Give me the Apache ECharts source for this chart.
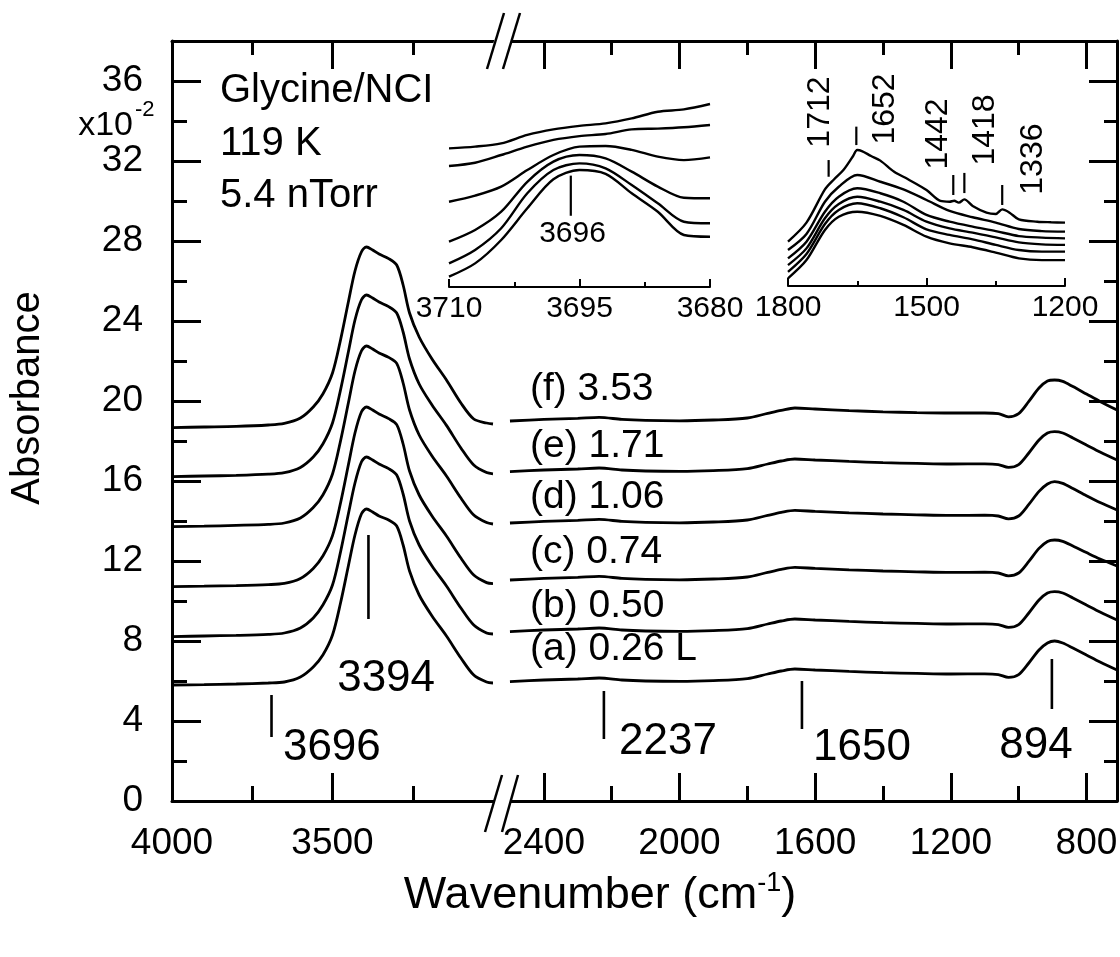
<!DOCTYPE html>
<html><head><meta charset="utf-8">
<script src="https://cdn.jsdelivr.net/npm/echarts@6.0.0/dist/echarts.min.js"></script>
<style>html,body{margin:0;padding:0;background:#fff}#c{width:1120px;height:957px}</style>
</head><body><div id="c"></div>
<script>
// ---------------- DATA ----------------
// Main panel, left segment (wavenumber, cm-1)
const leftWn = [4000, 3900, 3800, 3700, 3650, 3600, 3560, 3530, 3500, 3475, 3450, 3430, 3410, 3394, 3375, 3355, 3325, 3300, 3280, 3260, 3230, 3190, 3145, 3100, 3060, 3020, 3000];
const leftA = [5.80, 5.82, 5.85, 5.90, 5.95, 6.20, 6.70, 7.30, 8.30, 9.90, 11.80, 13.30, 14.35, 14.60, 14.45, 14.25, 14.05, 13.75, 12.80, 11.50, 10.30, 9.25, 8.25, 7.15, 6.30, 5.95, 5.90];
const leftB = [8.22, 8.25, 8.28, 8.33, 8.40, 8.65, 9.15, 9.80, 10.80, 12.45, 14.40, 15.90, 16.95, 17.20, 17.05, 16.85, 16.62, 16.30, 15.35, 14.00, 12.80, 11.75, 10.75, 9.65, 8.80, 8.40, 8.35];
const leftC = [10.72, 10.74, 10.77, 10.82, 10.88, 11.13, 11.63, 12.25, 13.27, 14.90, 16.85, 18.40, 19.45, 19.70, 19.55, 19.35, 19.12, 18.82, 17.85, 16.50, 15.30, 14.25, 13.25, 12.15, 11.30, 10.92, 10.87];
const leftD = [13.72, 13.74, 13.78, 13.83, 13.90, 14.15, 14.67, 15.30, 16.35, 18.00, 19.95, 21.50, 22.50, 22.75, 22.60, 22.40, 22.18, 21.88, 20.90, 19.55, 18.30, 17.25, 16.25, 15.15, 14.30, 13.92, 13.85];
const leftE = [16.22, 16.25, 16.28, 16.34, 16.42, 16.68, 17.20, 17.85, 18.90, 20.55, 22.50, 24.05, 25.05, 25.30, 25.15, 24.95, 24.72, 24.40, 23.45, 22.10, 20.85, 19.80, 18.78, 17.65, 16.80, 16.42, 16.36];
const leftF = [18.67, 18.70, 18.73, 18.80, 18.88, 19.15, 19.70, 20.35, 21.40, 23.05, 25.00, 26.50, 27.45, 27.70, 27.55, 27.35, 27.12, 26.80, 25.80, 24.40, 23.20, 22.10, 21.05, 19.90, 19.10, 18.90, 18.85];

// Main panel, right segment
const rightWn = [2500, 2400, 2300, 2237, 2170, 2100, 2000, 1900, 1800, 1740, 1700, 1660, 1600, 1500, 1400, 1300, 1200, 1100, 1060, 1030, 1000, 970, 940, 915, 894, 870, 840, 800, 760, 710];
const rightA = [5.97, 6.05, 6.10, 6.15, 6.05, 6.00, 5.98, 6.02, 6.12, 6.35, 6.50, 6.60, 6.55, 6.48, 6.42, 6.38, 6.35, 6.36, 6.32, 6.18, 6.32, 6.90, 7.55, 7.90, 8.00, 7.90, 7.65, 7.30, 6.95, 6.55];
const rightB = [8.47, 8.55, 8.60, 8.65, 8.55, 8.50, 8.48, 8.52, 8.62, 8.85, 9.00, 9.10, 9.05, 8.98, 8.92, 8.88, 8.85, 8.86, 8.82, 8.68, 8.82, 9.40, 10.05, 10.40, 10.47, 10.40, 10.15, 9.80, 9.45, 9.05];
const rightC = [11.05, 11.13, 11.18, 11.23, 11.13, 11.08, 11.06, 11.10, 11.20, 11.43, 11.58, 11.68, 11.63, 11.56, 11.50, 11.46, 11.43, 11.44, 11.40, 11.26, 11.40, 11.98, 12.63, 12.98, 13.05, 12.98, 12.75, 12.42, 12.10, 11.75];
const rightD = [13.90, 13.98, 14.03, 14.08, 13.98, 13.93, 13.91, 13.95, 14.05, 14.28, 14.43, 14.53, 14.48, 14.41, 14.35, 14.31, 14.28, 14.29, 14.25, 14.11, 14.25, 14.83, 15.48, 15.85, 15.97, 15.88, 15.62, 15.26, 14.92, 14.55];
const rightE = [16.47, 16.55, 16.60, 16.65, 16.55, 16.50, 16.48, 16.52, 16.62, 16.85, 17.00, 17.10, 17.05, 16.98, 16.92, 16.88, 16.85, 16.86, 16.82, 16.68, 16.82, 17.40, 18.05, 18.40, 18.47, 18.40, 18.15, 17.80, 17.45, 17.05];
const rightF = [19.00, 19.08, 19.13, 19.18, 19.08, 19.03, 19.01, 19.05, 19.15, 19.38, 19.53, 19.65, 19.60, 19.52, 19.46, 19.42, 19.40, 19.40, 19.37, 19.21, 19.37, 19.98, 20.65, 21.00, 21.05, 20.98, 20.72, 20.35, 19.98, 19.55];

// Inset 1 (3710-3680 cm-1), arbitrary vertical units
const inset1Wn = [3710, 3707, 3704, 3701, 3698, 3695, 3692, 3689, 3686, 3683, 3680];
const inset1A = [5.4, 12.3, 24.5, 41.0, 56.1, 60.9, 58.9, 48.8, 39.2, 27.1, 26.2];
const inset1B = [12.3, 19.3, 30.6, 48.8, 60.9, 64.4, 61.8, 53.1, 43.6, 34.0, 33.2];
const inset1C = [23.6, 29.7, 39.2, 54.8, 65.3, 68.75, 67.0, 60.1, 52.3, 46.5, 46.2];
const inset1D = [44.4, 47.6, 52.3, 60.9, 68.75, 73.1, 73.4, 71.4, 67.9, 66.1, 67.5];
const inset1E = [63.0, 64.7, 68.75, 73.1, 76.6, 78.6, 79.7, 82.1, 82.5, 83.2, 84.4];
const inset1F = [72.2, 73.1, 74.8, 79.2, 82.1, 83.9, 85.2, 87.8, 91.3, 92.5, 95.3];

// Inset 2 (1800-1200 cm-1), arbitrary vertical units
const inset2Wn = [1800, 1760, 1720, 1690, 1650, 1600, 1550, 1500, 1450, 1400, 1350, 1300, 1250, 1200];
const inset2A = [4.0, 13.5, 29.2, 36.1, 38.7, 36.5, 31.8, 25.7, 22.2, 20.2, 17.4, 14.4, 13.5, 13.5];
const inset2B = [7.4, 16.7, 32.3, 39.6, 43.1, 40.5, 35.8, 29.5, 26.6, 24.3, 21.4, 18.75, 17.9, 17.9];
const inset2C = [10.9, 19.6, 35.3, 42.7, 46.5, 43.9, 39.6, 33.5, 30.0, 27.8, 25.3, 22.7, 21.7, 21.4];
const inset2D = [14.4, 23.1, 38.7, 46.5, 50.9, 48.3, 43.9, 37.0, 33.5, 30.9, 28.6, 26.0, 25.2, 24.8];
const inset2E = [18.75, 27.1, 43.9, 51.7, 57.8, 54.3, 50.3, 44.8, 39.1, 35.8, 33.0, 29.7, 28.6, 28.3];
const inset2WnTop = [1800, 1760, 1720, 1700, 1680, 1660, 1650, 1640, 1620, 1600, 1570, 1540, 1500, 1470, 1450, 1440, 1430, 1418, 1400, 1370, 1350, 1336, 1320, 1300, 1260, 1230, 1200];
const inset2F = [23.1, 33.0, 50.3, 55.6, 60.4, 67.3, 70.8, 70.3, 67.7, 65.3, 59.5, 55.6, 50.0, 44.3, 43.9, 44.4, 43.4, 45.1, 41.7, 38.2, 37.5, 39.9, 38.2, 34.7, 33.5, 33.2, 33.0];

// Tick values
const yMajorTicks = [0, 4, 8, 12, 16, 20, 24, 28, 32, 36];
const yMinorTicks = [2, 6, 10, 14, 18, 22, 26, 30, 34];
const leftMajorTicks = [4000, 3500];
const leftMinorTicks = [3750, 3250];
const rightMajorTicks = [2400, 2000, 1600, 1200, 800];
const rightMinorTicks = [2200, 1800, 1400, 1000];

// Labels & peak markers (wavenumber, from, to)
const curveNames = ['(a) 0.26 L', '(b) 0.50', '(c) 0.74', '(d) 1.06', '(e) 1.71', '(f) 3.53'];
const markersLeft = [[3690, 3.2, 5.3], [3388, 9.1, 13.3]];
const markersRight = [[2223, 3.1, 5.5], [1639, 3.6, 6.0], [902, 4.6, 7.1]];
const markersInset1 = [[3696, 37.1, 58.0]];
const markersInset2 = [[1712, 56.9, 65.6], [1652, 73.4, 83.0], [1442, 47.4, 57.8], [1418, 48.4, 58.9], [1336, 42.2, 52.6]];
const peakNamesLeft = ['3696', '3394'];
const peakNamesRight = ['2237', '1650', '894'];
const peakNamesInset1 = ['3696'];
const peakNamesInset2 = ['1712', '1652', '1442', '1418', '1336'];

// Label anchor positions (layout, data coordinates)
const peakLabelPosLeft = [[3502, 2.65], [3333, 6.1]];
const peakLabelPosRight = [[2034, 2.95], [1462, 2.65], [949, 2.75]];
const curveLabelPos = [[2441, 7.58], [2441, 9.75], [2441, 12.42], [2441, 15.17], [2441, 17.75], [2441, 20.6]];
const inset1LabelPos = [[3695.8, 27.6]];
const inset2LabelPos = [[1730.7, 90.6], [1590, 92.2], [1475, 79.2], [1373, 81.25], [1269, 66.1]];

// ---------------- CHART ----------------
const FONT = '"Liberation Sans", Arial, Helvetica, sans-serif';
const K = '#000';
const zip = (xs, ys) => xs.map((x, i) => [x, ys[i]]);
const fmt = v => String(v);

function mainX(grid, pos, min, max, ticks, len, line, labels) {
  return {
    type: 'value', gridIndex: grid, position: pos, min: min, max: max, inverse: true,
    axisLine: { show: line, onZero: false, lineStyle: { color: K, width: 3 } },
    axisTick: { show: true, inside: true, length: len, customValues: ticks, lineStyle: { color: K, width: 3 } },
    axisLabel: labels ? { show: true, customValues: ticks, formatter: fmt, color: K, fontSize: 37, fontFamily: FONT, margin: 24 } : { show: false },
    splitLine: { show: false }
  };
}
function mainY(grid, pos, ticks, len, line, labels) {
  return {
    type: 'value', gridIndex: grid, position: pos, min: 0, max: 38,
    axisLine: { show: line, onZero: false, lineStyle: { color: K, width: 3 } },
    axisTick: { show: true, inside: true, length: len, customValues: ticks, lineStyle: { color: K, width: 3 } },
    axisLabel: labels ? { show: true, customValues: ticks, formatter: fmt, color: K, fontSize: 37, fontFamily: FONT, margin: 29 } : { show: false },
    splitLine: { show: false }
  };
}
function insetX(grid, min, max, interval) {
  return {
    type: 'value', gridIndex: grid, position: 'bottom', min: min, max: max, interval: interval, inverse: true,
    axisLine: { show: true, onZero: false, lineStyle: { color: K, width: 2 } },
    axisTick: { show: true, inside: true, length: 8, lineStyle: { color: K, width: 2 } },
    minorTick: { show: true, splitNumber: 2, length: 5, lineStyle: { color: K, width: 2 } },
    axisLabel: { show: true, formatter: fmt, color: K, fontSize: 30, fontFamily: FONT, margin: 7 },
    splitLine: { show: false }
  };
}
function curve(xi, yi, xs, ys, w) {
  return { type: 'line', xAxisIndex: xi, yAxisIndex: yi, data: zip(xs, ys), showSymbol: false, symbol: 'none',
    smooth: 0.3, silent: true, lineStyle: { color: K, width: w } };
}
function marker(xi, yi, m, w) {
  return { type: 'line', xAxisIndex: xi, yAxisIndex: yi, data: [[m[0], m[1]], [m[0], m[2]]], showSymbol: false,
    symbol: 'none', silent: true, lineStyle: { color: K, width: w } };
}
function labels(xi, yi, pos, names, size, align, rotate) {
  return { type: 'scatter', xAxisIndex: xi, yAxisIndex: yi, symbolSize: 0.1, silent: true,
    itemStyle: { color: 'rgba(255,255,255,0)', opacity: 1 },
    data: pos.map((p, i) => ({ value: p, name: names[i] })),
    label: { show: true, position: 'inside', formatter: '{b}', align: align, verticalAlign: 'middle', opacity: 1,
      rotate: rotate || 0, color: K, fontSize: size, fontFamily: FONT } };
}

const series = [];
[leftA, leftB, leftC, leftD, leftE, leftF].forEach(d => series.push(curve(0, 0, leftWn, d, 2.8)));
[rightA, rightB, rightC, rightD, rightE, rightF].forEach(d => series.push(curve(4, 2, rightWn, d, 2.8)));
[inset1A, inset1B, inset1C, inset1D, inset1E, inset1F].forEach(d => series.push(curve(8, 4, inset1Wn, d, 2.4)));
[inset2A, inset2B, inset2C, inset2D, inset2E].forEach(d => series.push(curve(9, 5, inset2Wn, d, 2.4)));
series.push(curve(9, 5, inset2WnTop, inset2F, 2.4));
markersLeft.forEach(m => series.push(marker(0, 0, m, 2.6)));
markersRight.forEach(m => series.push(marker(4, 2, m, 2.6)));
markersInset1.forEach(m => series.push(marker(8, 4, m, 2.2)));
markersInset2.forEach(m => series.push(marker(9, 5, m, 2.2)));
series.push(labels(0, 0, peakLabelPosLeft, peakNamesLeft, 44, 'center'));
series.push(labels(4, 2, peakLabelPosRight, peakNamesRight, 44, 'center'));
series.push(labels(4, 2, curveLabelPos, curveNames, 39, 'left'));
series.push(labels(8, 4, inset1LabelPos, peakNamesInset1, 30, 'center'));
series.push(labels(9, 5, inset2LabelPos, peakNamesInset2, 32, 'center', 90));

// break marks "//" on bottom and top axes
function slash(x0, y0, x1, y1) {
  return { type: 'line', z: 100, shape: { x1: x0, y1: y0, x2: x1, y2: y1 }, style: { stroke: K, lineWidth: 2.5 } };
}
function gap(pts) { return { type: 'polygon', z: 99, shape: { points: pts }, style: { fill: '#fff', stroke: null } }; }

const option = {
  animation: false,
  backgroundColor: '#fff',
  grid: [
    { left: 172, top: 41, width: 321, height: 760, outerBoundsMode: 'none', containLabel: false },
    { left: 493, top: 41, width: 624, height: 760, outerBoundsMode: 'none', containLabel: false },
    { left: 449, top: 95, width: 261, height: 192, outerBoundsMode: 'none', containLabel: false },
    { left: 788, top: 94, width: 277, height: 192, outerBoundsMode: 'none', containLabel: false }
  ],
  xAxis: [
    mainX(0, 'bottom', 3000, 4000, leftMajorTicks, 28, true, true),
    mainX(0, 'bottom', 3000, 4000, leftMinorTicks, 15, false, false),
    mainX(0, 'top', 3000, 4000, leftMajorTicks, 28, true, false),
    mainX(0, 'top', 3000, 4000, leftMinorTicks, 14, false, false),
    mainX(1, 'bottom', 710, 2550, rightMajorTicks, 28, true, true),
    mainX(1, 'bottom', 710, 2550, rightMinorTicks, 15, false, false),
    mainX(1, 'top', 710, 2550, rightMajorTicks, 28, true, false),
    mainX(1, 'top', 710, 2550, rightMinorTicks, 14, false, false),
    insetX(2, 3680, 3710, 15),
    insetX(3, 1200, 1800, 300)
  ],
  yAxis: [
    mainY(0, 'left', yMajorTicks, 29, true, true),
    mainY(0, 'left', yMinorTicks, 15, false, false),
    mainY(1, 'right', yMajorTicks, 28, true, false),
    mainY(1, 'right', yMinorTicks, 13, false, false),
    { type: 'value', gridIndex: 2, min: 0, max: 100, show: false },
    { type: 'value', gridIndex: 3, min: 0, max: 100, show: false }
  ],
  series: series,
  graphic: [
    gap([[492, 808], [496, 794], [513, 794], [509, 808]]),
    gap([[492, 48], [496, 34], [513, 34], [509, 48]]),
    slash(485, 832, 502, 775), slash(502, 832, 518, 775),
    slash(487, 69, 504, 13), slash(503, 69, 520, 13),
    { type: 'text', z: 100, x: 220, y: 91, style: { text: 'Glycine/NCI', fill: K, fontSize: 40, fontFamily: FONT, textAlign: 'left', textVerticalAlign: 'middle' } },
    { type: 'text', z: 100, x: 220, y: 144, style: { text: '119 K', fill: K, fontSize: 40, fontFamily: FONT, textAlign: 'left', textVerticalAlign: 'middle' } },
    { type: 'text', z: 100, x: 220, y: 196, style: { text: '5.4 nTorr', fill: K, fontSize: 40, fontFamily: FONT, textAlign: 'left', textVerticalAlign: 'middle' } },
    { type: 'text', z: 100, x: 133, y: 126, style: { text: 'x10', fill: K, fontSize: 34, fontFamily: FONT, textAlign: 'right', textVerticalAlign: 'middle' } },
    { type: 'text', z: 100, x: 135, y: 110, style: { text: '-2', fill: K, fontSize: 22, fontFamily: FONT, textAlign: 'left', textVerticalAlign: 'middle' } },
    { type: 'text', z: 100, x: 28, y: 398, rotation: Math.PI / 2, style: { text: 'Absorbance', fill: K, fontSize: 40, fontFamily: FONT, textAlign: 'center', textVerticalAlign: 'middle' } },
    { type: 'text', z: 100, x: 600, y: 896, style: {
        text: '{a|Wavenumber (cm}{s|-1}{a|)}', fill: K, fontFamily: FONT, textAlign: 'center', textVerticalAlign: 'middle',
        rich: { a: { fontSize: 45, fontFamily: FONT, fill: K, lineHeight: 52 }, s: { fontSize: 27, fontFamily: FONT, fill: K, verticalAlign: 'top', lineHeight: 52 } } } }
  ]
};

const chart = echarts.init(document.getElementById('c'), null, { renderer: 'canvas' });
chart.setOption(option);
</script></body></html>
